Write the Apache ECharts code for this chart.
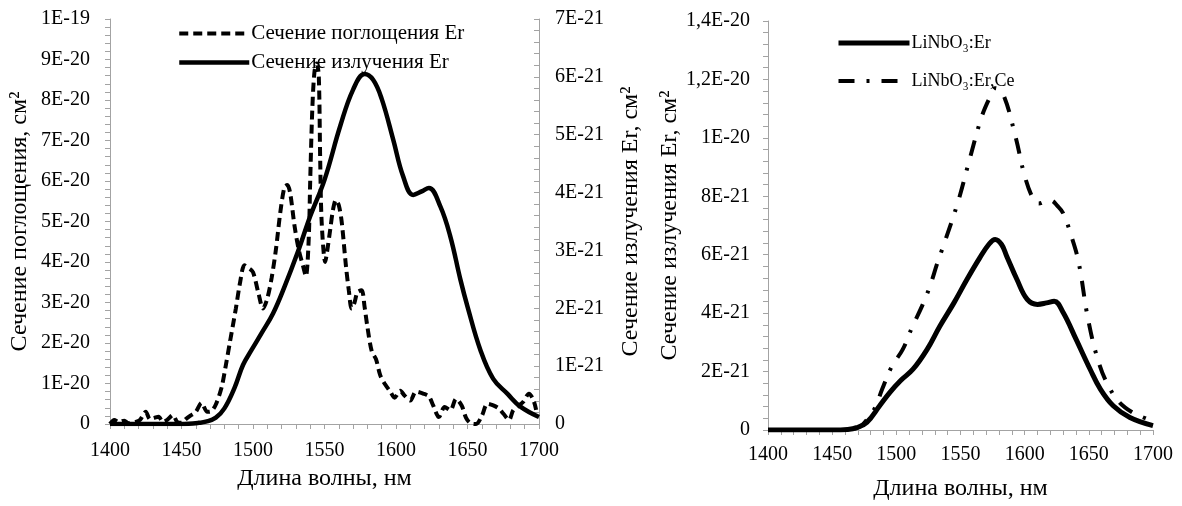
<!DOCTYPE html>
<html>
<head>
<meta charset="utf-8">
<script src="https://cdn.jsdelivr.net/npm/echarts@6/dist/echarts.min.js"></script>
<style>
  html, body { margin: 0; padding: 0; background: #fff; }
  #chart { width: 1182px; height: 506px; }
</style>
</head>
<body>
<div id="chart"></div>
<script>
// Absorption cross-section of Er (left panel, in units of 1E-20 cm²)
const absWl = [1400,1403,1406,1410,1413,1418,1421,1425,1428,1431,
  1434,1437,1440,1444,1447,1450,1453,1456,1460,1464,
  1468,1471,1474,1478,1481,1484,1488,1491,1494,1497,
  1500,1504,1507,1510,1513,1516,1519,1522,1524,1526,
  1529,1532,1535,1537,1539,1540,1541.5,1543,1544.6,1546,
  1547,1548,1550.5,1552,1554,1556,1558,1560,1562,1565,
  1567,1569,1571,1573,1576,1578,1580,1583,1586,1589,
  1592,1596,1599,1603,1606,1610,1614,1619,1623,1626,
  1630,1634,1638,1642,1646,1649,1652,1656,1660,1664,
  1668,1672,1675,1679,1682,1686,1689,1693,1696,1698];
const absVal = [0,0.1,0.05,0.08,0.02,0.05,0.1,0.3,0.12,0.15,
  0.18,0.05,0.1,0.22,0.05,0.03,0.12,0.2,0.3,0.52,
  0.3,0.32,0.48,0.9,1.45,2.05,2.85,3.5,3.92,3.85,
  3.75,3.2,2.85,3.1,3.6,4.3,5.2,5.85,5.9,5.7,
  4.9,4.3,3.9,3.65,4.6,6.0,7.8,8.7,8.9,8.6,
  6.5,5.0,4.0,4.3,4.8,5.3,5.53,5.4,5.0,3.9,
  3.3,2.85,3.0,3.25,3.3,2.9,2.4,1.8,1.6,1.2,
  1.0,0.8,0.65,0.82,0.7,0.58,0.8,0.75,0.68,0.46,
  0.17,0.42,0.34,0.62,0.45,0.15,0.02,0,0.2,0.5,
  0.46,0.38,0.26,0.1,0.34,0.46,0.55,0.75,0.6,0.35];

// Emission cross-section of Er (left panel, right axis, units of 1E-21 cm²)
const emWl = [1400,1440,1455,1462,1467,1474,1480,1487,1493,1499,
  1506,1514,1522,1531,1540,1550,1561,1570,1578,1584,
  1590,1598,1605,1612,1618,1623,1631,1638,1645,1650,
  1659,1668,1678,1687,1700];
const emVal = [0,0,0.005,0.02,0.04,0.11,0.27,0.62,1.02,1.28,
  1.57,1.91,2.37,2.95,3.59,4.22,5.15,5.78,6.05,5.95,
  5.62,4.92,4.28,3.96,4.02,4.08,3.76,3.24,2.5,2.03,
  1.28,0.78,0.52,0.3,0.12];

// Emission cross-section, LiNbO3:Er (right panel, units of 1E-21 cm²)
const erWl = [1400,1450,1462,1469,1477,1487,1495,1503,1513,1524,
  1534,1545,1555,1565,1572,1577,1582,1586,1594,1602,
  1610,1617,1623,1630,1640,1651,1659,1669,1682,1700];
const erVal = [0,0,0.02,0.08,0.26,0.83,1.29,1.68,2.08,2.76,
  3.56,4.36,5.15,5.89,6.35,6.52,6.35,5.95,5.15,4.47,
  4.3,4.35,4.41,4.02,3.11,2.08,1.4,0.83,0.43,0.15];

// Emission cross-section, LiNbO3:Er,Ce (right panel, units of 1E-21 cm²)
const ceWl = [1400,1455,1465,1472,1477,1483.5,1489,1496.5,1505,1512.5,
  1520,1526,1532,1537,1548,1557,1566.5,1573,1577,1583,
  1592.7,1600,1607,1611,1616,1620,1626,1630,1636,1642,
  1649.6,1658,1666,1674,1684,1693,1700];
const ceVal = [0,0,0.03,0.12,0.35,0.77,1.4,2.18,2.76,3.54,
  4.24,4.9,5.72,6.35,7.8,9.25,10.72,11.4,11.7,11.52,
  10.07,8.7,7.88,7.75,7.82,7.86,7.65,7.42,6.69,5.75,
  3.75,2.27,1.45,0.94,0.6,0.42,0.3];

const seriesNames = ['Сечение поглощения Er', 'Сечение излучения Er', 'LiNbO₃:Er', 'LiNbO₃:Er,Ce'];
const xTitle = 'Длина волны, нм';
const yTitleAbs = 'Сечение поглощения, см²';
const yTitleEm = 'Сечение излучения Er, см²';

const FONT = 'Liberation Serif';
const AXIS_GREY = '#a3a3a3';

const zip = (xs, ys) => xs.map((x, i) => [x, ys[i]]);

// Tick labels in the "1,4E-20" notation; values are held in units of 10^unitExp
function sciLabel(v, unitExp) {
  if (v === 0) return '0';
  const k = Math.floor(Math.log10(v) + 1e-9);
  const m = Math.round(v / Math.pow(10, k) * 10) / 10;
  return String(m).replace('.', ',') + 'E' + (unitExp + k);
}

function xAxisOf(gridIndex, labelMargin, nameGap) {
  return {
    type: 'value', gridIndex, min: 1400, max: 1700, interval: 50,
    axisLine: { lineStyle: { color: AXIS_GREY, width: 1 } },
    axisTick: { show: true, length: 5, lineStyle: { color: AXIS_GREY } },
    minorTick: { show: true, splitNumber: 5, length: 5, lineStyle: { color: AXIS_GREY } },
    splitLine: { show: false },
    axisLabel: { color: '#000', fontFamily: FONT, fontSize: 20, margin: labelMargin, formatter: v => String(v) },
    name: xTitle, nameLocation: 'middle', nameGap,
    nameTextStyle: { color: '#000', fontFamily: FONT, fontSize: 24 }
  };
}

function yAxisOf(opts) {
  return {
    type: 'value', gridIndex: opts.grid, position: opts.position,
    min: 0, max: opts.max, interval: opts.interval,
    axisLine: { show: true, onZero: false, lineStyle: { color: AXIS_GREY, width: 1 } },
    axisTick: { show: true, inside: !!opts.inside, length: 5, lineStyle: { color: AXIS_GREY } },
    minorTick: { show: true, splitNumber: 5, length: 5, lineStyle: { color: AXIS_GREY } },
    splitLine: { show: false },
    axisLabel: {
      color: '#000', fontFamily: FONT, fontSize: 20, margin: opts.margin,
      formatter: v => sciLabel(v, opts.unitExp)
    },
    name: opts.name, nameLocation: 'middle', nameGap: opts.nameGap, nameRotate: 90,
    nameMoveOverlap: opts.moveOverlap !== false,
    nameTextStyle: { color: '#000', fontFamily: FONT, fontSize: 24 }
  };
}

const chart = echarts.init(document.getElementById('chart'), null, { renderer: 'canvas' });

chart.setOption({
  animation: false,
  backgroundColor: '#fff',
  textStyle: { fontFamily: FONT },
  grid: [
    { left: 110, right: 643, top: 19, bottom: 82 },
    { left: 768, right: 29, top: 21, bottom: 75 }
  ],
  xAxis: [ xAxisOf(0, 17, 43), xAxisOf(1, 15, 47) ],
  yAxis: [
    yAxisOf({ grid: 0, position: 'left', max: 10, interval: 1, unitExp: -20, margin: 20, name: yTitleAbs, nameGap: 78 }),
    yAxisOf({ grid: 0, position: 'right', max: 7, interval: 1, unitExp: -21, margin: 16, inside: true, name: yTitleEm, nameGap: 80 }),
    yAxisOf({ grid: 1, position: 'left', max: 14, interval: 2, unitExp: -21, margin: 18, name: yTitleEm, nameGap: 86, moveOverlap: false })
  ],
  legend: [
    {
      data: [seriesNames[0], seriesNames[1]], orient: 'vertical',
      left: 172, top: 18, itemWidth: 70, itemHeight: 12, itemGap: 8,
      itemStyle: { opacity: 0 },
      lineStyle: { width: 'inherit' },
      textStyle: { color: '#000', fontFamily: FONT, fontSize: 21, padding: [0, 0, 0, -3] },
      selectedMode: false
    },
    {
      data: [seriesNames[2], seriesNames[3]], orient: 'vertical',
      left: 831, top: 29, itemWidth: 71, itemHeight: 12, itemGap: 20,
      itemStyle: { opacity: 0 },
      lineStyle: { width: 'inherit' },
      textStyle: { color: '#000', fontFamily: FONT, fontSize: 18, padding: [0, 0, 0, -3] },
      selectedMode: false
    }
  ],
  series: [
    {
      name: seriesNames[0], type: 'line', xAxisIndex: 0, yAxisIndex: 0,
      data: zip(absWl, absVal), smooth: 0.3, symbol: 'none', showSymbol: false,
      lineStyle: { color: '#000', width: 4, type: [9, 5], cap: 'butt' }, itemStyle: { color: '#000' }, z: 3
    },
    {
      name: seriesNames[1], type: 'line', xAxisIndex: 0, yAxisIndex: 1,
      data: zip(emWl, emVal), smooth: 0.4, symbol: 'none', showSymbol: false,
      lineStyle: { color: '#000', width: 4.5, type: 'solid' }, itemStyle: { color: '#000' }, z: 2
    },
    {
      name: seriesNames[2], type: 'line', xAxisIndex: 1, yAxisIndex: 2,
      data: zip(erWl, erVal), smooth: 0.4, symbol: 'none', showSymbol: false,
      lineStyle: { color: '#000', width: 5, type: 'solid' }, itemStyle: { color: '#000' }, z: 3
    },
    {
      name: seriesNames[3], type: 'line', xAxisIndex: 1, yAxisIndex: 2,
      data: zip(ceWl, ceVal), smooth: 0.4, symbol: 'none', showSymbol: false,
      lineStyle: { color: '#000', width: 4, type: [16, 12, 3, 12], cap: 'butt' }, itemStyle: { color: '#000' }, z: 2
    }
  ]
});
</script>
</body>
</html>
